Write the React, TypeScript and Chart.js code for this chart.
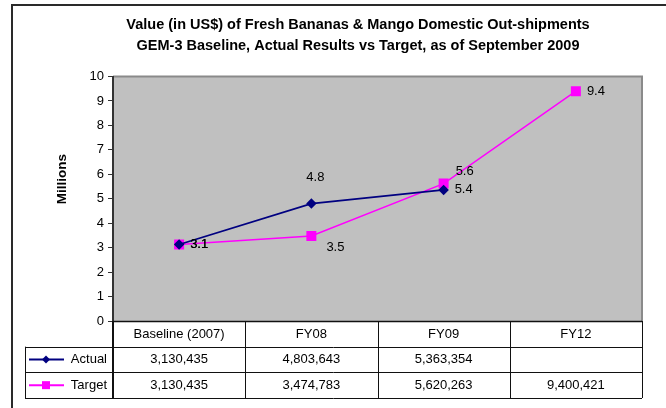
import React, { useEffect, useRef } from "react";
import { Chart, registerables } from "chart.js";

Chart.register(...registerables);

// ---------- data ----------
const categories = ["Baseline (2007)", "FY08", "FY09", "FY12"];
const actualValues: (number | null)[] = [3130435, 4803643, 5363354, null];
const targetValues: (number | null)[] = [3130435, 3474783, 5620263, 9400421];
const seriesNames = ["Actual", "Target"];
const titleLines = [
  "Value (in US$) of Fresh Bananas & Mango Domestic Out-shipments",
  "GEM-3 Baseline, Actual Results vs Target, as of September 2009",
];
const yAxisTitle = "Millions";
const yMin = 0;
const yMax = 10;
const yStep = 1;

// label placement (style only)
const actualLabelPlacement = ["right", "above", "right", null];
const targetLabelPlacement = ["right", "belowRight", "aboveRight", "right"];

const FONT = "'Liberation Sans', Arial, sans-serif";
const ACTUAL_COLOR = "#000080";
const TARGET_COLOR = "#FF00FF";

const toMillions = (v: number | null) => (v == null ? null : v / 1e6);
const fmt = (v: number | null) => (v == null ? "" : v.toLocaleString("en-US"));

const placementOffset: Record<string, [number, number, CanvasTextAlign]> = {
  right: [11, 0, "left"],
  above: [4, -26, "center"],
  belowRight: [15, 11, "left"],
  aboveRight: [12, -12, "left"],
};

const decorPlugin = {
  id: "decor",
  beforeDraw(chart: any) {
    const { ctx, chartArea } = chart;
    const { left, top, right, bottom } = chartArea;
    ctx.save();
    ctx.fillStyle = "#ffffff";
    ctx.fillRect(0, 0, chart.width, chart.height);
    // outer frame
    ctx.strokeStyle = "#2a2a2a";
    ctx.lineWidth = 2;
    ctx.strokeRect(12, 5, chart.width + 20, chart.height + 20);
    // plot area
    ctx.fillStyle = "#C0C0C0";
    ctx.fillRect(left, top, right - left, bottom - top);
    ctx.strokeStyle = "#8a8a8a";
    ctx.lineWidth = 2;
    ctx.beginPath();
    ctx.moveTo(left, top);
    ctx.lineTo(right, top);
    ctx.lineTo(right, bottom);
    ctx.stroke();
    // y axis title
    ctx.fillStyle = "#000";
    ctx.font = `bold 13.5px ${FONT}`;
    ctx.textAlign = "center";
    ctx.textBaseline = "middle";
    ctx.translate(62, top + (bottom - top) * 0.42);
    ctx.rotate(-Math.PI / 2);
    ctx.fillText(yAxisTitle, 0, 0);
    ctx.restore();
  },
  afterDatasetsDraw(chart: any) {
    const { ctx } = chart;
    ctx.save();
    ctx.font = `13px ${FONT}`;
    ctx.fillStyle = "#000";
    ctx.textBaseline = "middle";
    const placements = [actualLabelPlacement, targetLabelPlacement];
    chart.data.datasets.forEach((ds: any, di: number) => {
      const meta = chart.getDatasetMeta(di);
      meta.data.forEach((pt: any, i: number) => {
        const v = ds.data[i];
        const pl = placements[di][i];
        if (v == null || !pl) return;
        const [dx, dy, align] = placementOffset[pl];
        ctx.textAlign = align;
        ctx.fillText(v.toFixed(1), pt.x + dx, pt.y + dy);
      });
    });
    ctx.restore();
  },
  afterDraw(chart: any) {
    const { ctx, chartArea } = chart;
    const x = chart.scales.x;
    const n = categories.length;
    const left = chartArea.left;
    const right = chartArea.right;
    const slot = (right - left) / n;
    const top = chartArea.bottom;
    const bottom = x.bottom;
    const rowH = (bottom - top) / 3;
    const tableLeft = 25;
    ctx.save();
    ctx.strokeStyle = "#111";
    ctx.lineWidth = 1;
    const hline = (y: number, x0: number, x1: number) => {
      ctx.beginPath();
      ctx.moveTo(x0, Math.round(y) + 0.5);
      ctx.lineTo(x1, Math.round(y) + 0.5);
      ctx.stroke();
    };
    const vline = (xx: number, y0: number, y1: number) => {
      ctx.beginPath();
      ctx.moveTo(Math.round(xx) + 0.5, y0);
      ctx.lineTo(Math.round(xx) + 0.5, y1);
      ctx.stroke();
    };
    ctx.lineWidth = 1.5;
    hline(top, left, right);
    ctx.lineWidth = 1;
    hline(top + rowH, tableLeft, right);
    hline(top + 2 * rowH, tableLeft, right);
    hline(bottom, tableLeft, right);
    for (let i = 1; i <= n; i++) vline(left + i * slot, top, bottom);
    ctx.lineWidth = 2;
    ctx.beginPath();
    ctx.moveTo(left, top);
    ctx.lineTo(left, bottom);
    ctx.stroke();
    ctx.lineWidth = 1;
    vline(tableLeft, top + rowH, bottom);

    // values
    const rows = [actualValues, targetValues];
    const colors = [ACTUAL_COLOR, TARGET_COLOR];
    ctx.font = `13px ${FONT}`;
    ctx.fillStyle = "#000";
    ctx.textBaseline = "middle";
    rows.forEach((vals, r) => {
      const cy = top + rowH * (r + 1.5);
      ctx.textAlign = "center";
      vals.forEach((v, i) => {
        ctx.fillText(fmt(v), x.getPixelForValue(i), cy);
      });
      // legend key
      ctx.strokeStyle = colors[r];
      ctx.lineWidth = 2;
      ctx.beginPath();
      ctx.moveTo(29, cy);
      ctx.lineTo(64, cy);
      ctx.stroke();
      ctx.fillStyle = colors[r];
      ctx.beginPath();
      if (r === 0) {
        ctx.moveTo(46, cy - 4);
        ctx.lineTo(50, cy);
        ctx.lineTo(46, cy + 4);
        ctx.lineTo(42, cy);
        ctx.closePath();
        ctx.fill();
      } else {
        ctx.fillRect(42, cy - 4, 8, 8);
      }
      ctx.fillStyle = "#000";
      ctx.textAlign = "right";
      ctx.fillText(seriesNames[r], 107, cy);
    });
    ctx.restore();
  },
};

export default function App() {
  const canvasRef = useRef<HTMLCanvasElement | null>(null);
  useEffect(() => {
    const canvas = canvasRef.current;
    if (!canvas) return;
    const chart = new Chart(canvas, {
      type: "line",
      data: {
        labels: categories,
        datasets: [
          {
            label: seriesNames[0],
            data: actualValues.map(toMillions),
            borderColor: ACTUAL_COLOR,
            backgroundColor: ACTUAL_COLOR,
            borderWidth: 1.75,
            pointStyle: "rectRot",
            pointRadius: 4,
            pointHoverRadius: 4,
            spanGaps: false,
          },
          {
            label: seriesNames[1],
            data: targetValues.map(toMillions),
            borderColor: TARGET_COLOR,
            backgroundColor: TARGET_COLOR,
            borderWidth: 1.5,
            pointStyle: "rect",
            pointRadius: 6,
            pointHoverRadius: 6,
          },
        ],
      },
      options: {
        responsive: false,
        animation: false,
        devicePixelRatio: 1,
        layout: { padding: { left: 74, right: 24, top: 0, bottom: 10 } },
        plugins: {
          legend: { display: false },
          tooltip: { enabled: false },
          title: {
            display: true,
            text: titleLines,
            color: "#000",
            font: { family: FONT, size: 14.5, weight: "bold", lineHeight: 1.45 },
            padding: { top: 14.5, bottom: 20 },
          },
        },
        scales: {
          x: {
            type: "category",
            offset: true,
            grid: { display: false, drawTicks: false },
            border: { display: false },
            ticks: {
              color: "#000",
              font: { family: FONT, size: 13 },
              padding: 6,
              maxRotation: 0,
              autoSkip: false,
            },
            afterFit: (s: any) => {
              s.height = 77;
            },
          },
          y: {
            min: yMin,
            max: yMax,
            ticks: {
              stepSize: yStep,
              color: "#000",
              font: { family: FONT, size: 13 },
              padding: 4,
            },
            grid: {
              drawOnChartArea: false,
              drawTicks: true,
              tickLength: 5,
              color: "#333",
            },
            border: { display: true, color: "#333", width: 2 },
            afterFit: (s: any) => {
              s.width = 39;
            },
          },
        },
      },
      plugins: [decorPlugin],
    });
    return () => chart.destroy();
  }, []);
  return (
    <div style={{ position: "absolute", left: 0, top: 0, width: 666, height: 408 }}>
      <canvas ref={canvasRef} width={666} height={408} style={{ display: "block" }} />
    </div>
  );
}
